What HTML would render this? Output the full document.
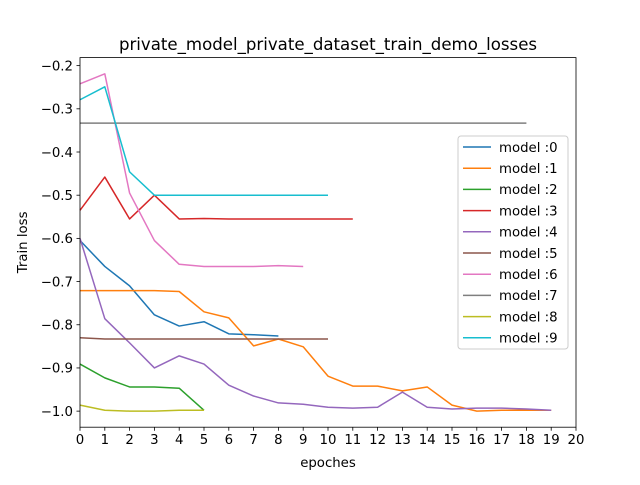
<!DOCTYPE html>
<html><head><meta charset="utf-8"><style>
body{margin:0;background:#fff;}
svg{font-family:"DejaVu Sans","Liberation Sans",sans-serif;}
</style></head><body>
<svg id="chart" width="640" height="480" xmlns="http://www.w3.org/2000/svg"></svg>
<script>
const xTicks=[0,1,2,3,4,5,6,7,8,9,10,11,12,13,14,15,16,17,18,19,20];
const yTicks=[-1.0,-0.9,-0.8,-0.7,-0.6,-0.5,-0.4,-0.3,-0.2];
const seriesNames=["model :0","model :1","model :2","model :3","model :4","model :5","model :6","model :7","model :8","model :9"];
const colors=["#1f77b4","#ff7f0e","#2ca02c","#d62728","#9467bd","#8c564b","#e377c2","#7f7f7f","#bcbd22","#17becf"];
const m0=[-0.605,-0.665,-0.71,-0.777,-0.803,-0.793,-0.821,-0.823,-0.826];
const m1=[-0.721,-0.721,-0.721,-0.721,-0.723,-0.77,-0.784,-0.849,-0.833,-0.851,-0.919,-0.942,-0.942,-0.953,-0.944,-0.986,-1.0,-0.998,-0.998,-0.998];
const m2=[-0.891,-0.923,-0.944,-0.944,-0.947,-0.998];
const m3=[-0.535,-0.458,-0.555,-0.5,-0.555,-0.554,-0.555,-0.555,-0.555,-0.555,-0.555,-0.555];
const m4=[-0.6,-0.786,-0.842,-0.9,-0.872,-0.891,-0.94,-0.965,-0.981,-0.984,-0.991,-0.993,-0.991,-0.956,-0.991,-0.995,-0.993,-0.993,-0.995,-0.998];
const m5=[-0.83,-0.833,-0.833,-0.833,-0.833,-0.833,-0.833,-0.833,-0.833,-0.833,-0.833];
const m6=[-0.242,-0.219,-0.495,-0.605,-0.66,-0.665,-0.665,-0.665,-0.663,-0.665];
const m7=[-0.333,-0.333,-0.333,-0.333,-0.333,-0.333,-0.333,-0.333,-0.333,-0.333,-0.333,-0.333,-0.333,-0.333,-0.333,-0.333,-0.333,-0.333,-0.333];
const m8=[-0.986,-0.998,-1.0,-1.0,-0.998,-0.998];
const m9=[-0.279,-0.249,-0.446,-0.5,-0.5,-0.5,-0.5,-0.5,-0.5,-0.5,-0.5];
const series=[m0,m1,m2,m3,m4,m5,m6,m7,m8,m9];

const L=80,R=576,T=57.6,B=427.2;
const xMin=0,xMax=20,yMin=-1.0372,yMax=-0.1814;
const xs=v=>L+(v-xMin)/(xMax-xMin)*(R-L);
const ys=v=>B-(v-yMin)/(yMax-yMin)*(B-T);
const svg=document.getElementById('chart');
const NS="http://www.w3.org/2000/svg";
function mk(tag,attrs,parent){const e=document.createElementNS(NS,tag);for(const k in attrs)e.setAttribute(k,attrs[k]);(parent||svg).appendChild(e);return e;}

const title=mk('text',{x:328,y:50,'text-anchor':'middle','font-size':16.6,fill:'#000'});
title.textContent="private_model_private_dataset_train_demo_losses";



xTicks.forEach(t=>{
  const g=mk('g',{});
  
  
  mk('line',{x1:xs(t),x2:xs(t),y1:B,y2:B+3.5,stroke:'#000','stroke-width':0.8},g);
  const tx=mk('text',{x:xs(t),y:B+17,'text-anchor':'middle','font-size':13.3},g);
  tx.textContent=t;
});
yTicks.forEach(t=>{
  const g=mk('g',{});
  
  
  mk('line',{x1:L-3.5,x2:L,y1:ys(t),y2:ys(t),stroke:'#000','stroke-width':0.8},g);
  const tx=mk('text',{x:L-7,y:ys(t)+4.8,'text-anchor':'end','font-size':13.3},g);
  tx.textContent=(t.toFixed(1)).replace('-','\u2212');
});
const xl=mk('text',{x:328,y:467,'text-anchor':'middle','font-size':13.3});
xl.textContent="epoches";


const yl=mk('text',{x:0,y:0,'text-anchor':'middle','font-size':13.3,transform:`translate(27,${(T+B)/2}) rotate(-90)`});
yl.textContent="Train loss";



series.forEach((s,i)=>{
  const p=mk('polyline',{points:s.map((v,j)=>xs(j)+','+ys(v)).join(' '),fill:'none',stroke:colors[i],'stroke-width':1.5,'stroke-linejoin':'round'});
  
  
});

const frame=mk('rect',{x:L,y:T,width:R-L,height:B-T,fill:'none',stroke:'#000','stroke-width':0.8});



const lg=mk('g',{});


mk('rect',{x:458,y:136,width:110,height:213,rx:3,fill:'#fff','fill-opacity':0.8,stroke:'#ccc'},lg);
seriesNames.forEach((n,i)=>{
  const y=147+i*21.2;
  const e=mk('g',{},lg);
  
  
  mk('line',{x1:463,x2:491,y1:y,y2:y,stroke:colors[i],'stroke-width':1.5},e);
  const t=mk('text',{x:499,y:y+4.8,'font-size':13.3},e);
  t.textContent=n;
});
</script>
</body></html>
